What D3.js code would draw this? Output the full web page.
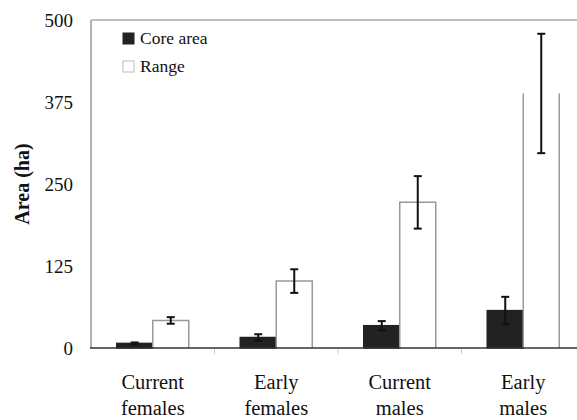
<html>
<script src="https://d3js.org/d3.v7.min.js"></script>
<body style="margin:0">
<svg width="577" height="420"></svg>
<script>
    // data
    var groups = ["Current females", "Early females", "Current males", "Early males"];
    var seriesNames = ["Core area", "Range"];
    var coreArea = [7, 16, 34, 57];
    var coreErr = [1.5, 5, 7, 21];
    var rangeArea = [42, 102, 222, 388];
    var rangeErr = [5, 18, 40, 91];
    var yTicks = [0, 125, 250, 375, 500];

    var fontName = "'Times New Roman', 'Liberation Serif', serif";
    var svg = d3.select("svg");
    var plotLeft = 91, plotRight = 585, plotTop = 20, base = 348;

    var x0 = d3.scaleBand().domain(groups).range([plotLeft, plotRight]);
    var x1 = d3.scaleBand().domain(seriesNames).range([0, x0.bandwidth()]).paddingOuter(0.715);
    var y = d3.scaleLinear().domain([0, 500]).range([base, plotTop]);

    var rows = groups.map(function (g, i) {
        return [
            { g: g, i: i, s: "Core area", v: coreArea[i], e: coreErr[i] },
            { g: g, i: i, s: "Range", v: rangeArea[i], e: rangeErr[i] }
        ];
    });

    // frame: top line and left axis
    svg.append("line").attr("x1", plotLeft).attr("x2", plotRight).attr("y1", plotTop).attr("y2", plotTop)
        .attr("stroke", "#aaa").attr("stroke-width", 1.5);
    svg.append("line").attr("x1", plotLeft).attr("x2", plotLeft).attr("y1", plotTop).attr("y2", base)
        .attr("stroke", "#999").attr("stroke-width", 1.5);

    // y tick labels
    svg.append("g").selectAll("text").data(yTicks).enter().append("text")
        .attr("x", 73).attr("y", function (d) { return y(d); })
        .attr("dy", "0.35em").attr("text-anchor", "end")
        .attr("font-family", fontName).attr("font-size", 19).attr("fill", "#111")
        .text(function (d) { return d; });

    svg.append("text")
        .attr("transform", "translate(29," + (y(0) + y(500)) / 2 + ") rotate(-90)")
        .attr("text-anchor", "middle")
        .attr("font-family", fontName).attr("font-size", 20).attr("font-weight", "bold").attr("fill", "#111")
        .text("Area (ha)");

    // bars
    var bars = svg.append("g").selectAll("g").data(rows).enter().append("g")
        .attr("transform", function (d) { return "translate(" + x0(d[0].g) + ",0)"; });

    bars.selectAll("rect").data(function (d) { return d; }).enter().append("rect")
        .attr("x", function (d) { return x1(d.s); })
        .attr("y", function (d) { return y(d.v); })
        .attr("width", x1.bandwidth())
        .attr("height", function (d) { return base - y(d.v); })
        .attr("fill", function (d) { return d.s == "Core area" ? "#222" : "#fff"; })
        .attr("stroke", function (d) { return d.s == "Core area" ? "#222" : "none"; })
        .attr("stroke-width", 1.5);

    // outline of the range bars (the tallest one is drawn open at the top, as in the figure)
    bars.append("path")
        .datum(function (d) { return d[1]; })
        .attr("fill", "none").attr("stroke", "#999").attr("stroke-width", 1.5)
        .attr("d", function (d) {
            var xa = x1(d.s), xb = xa + x1.bandwidth(), yt = y(d.v);
            if (d.i == groups.length - 1) {
                return "M" + xa + "," + base + "V" + yt + "M" + xb + "," + yt + "V" + base;
            }
            return "M" + xa + "," + base + "V" + yt + "H" + xb + "V" + base;
        });

    // error bars
    var err = bars.selectAll("g.err").data(function (d) { return d; }).enter().append("g")
        .attr("class", "err")
        .attr("stroke", "#111").attr("stroke-width", 2);
    function cx(d) { return x1(d.s) + x1.bandwidth() / 2; }
    err.append("line")
        .attr("x1", cx).attr("x2", cx)
        .attr("y1", function (d) { return y(d.v + d.e); })
        .attr("y2", function (d) { return y(d.v - d.e); });
    [1, -1].forEach(function (sgn) {
        err.append("line")
            .attr("x1", function (d) { return cx(d) - 4; })
            .attr("x2", function (d) { return cx(d) + 4; })
            .attr("y1", function (d) { return y(d.v + sgn * d.e); })
            .attr("y2", function (d) { return y(d.v + sgn * d.e); });
    });

    // baseline and category ticks
    svg.append("line").attr("x1", plotLeft - 1).attr("x2", plotRight).attr("y1", base).attr("y2", base)
        .attr("stroke", "#333").attr("stroke-width", 1.5);
    svg.append("g").selectAll("line").data(groups.slice(1)).enter().append("line")
        .attr("x1", function (d) { return x0(d); }).attr("x2", function (d) { return x0(d); })
        .attr("y1", base + 1).attr("y2", base + 6)
        .attr("stroke", "#ccc").attr("stroke-width", 1);

    // category labels on two lines
    var lab = svg.append("g").selectAll("text").data(groups).enter().append("text")
        .attr("x", function (d) { return x0(d) + x0.bandwidth() / 2; })
        .attr("y", 389).attr("text-anchor", "middle")
        .attr("font-family", fontName).attr("font-size", 20.5).attr("fill", "#111");
    lab.append("tspan").text(function (d) { return d.split(" ")[0]; });
    lab.append("tspan")
        .attr("x", function (d) { return x0(d) + x0.bandwidth() / 2; })
        .attr("dy", 26)
        .text(function (d) { return d.split(" ")[1]; });

    // legend
    var leg = svg.append("g").selectAll("g").data(seriesNames).enter().append("g")
        .attr("transform", function (d, i) { return "translate(123," + (33 + i * 28) + ")"; });
    leg.append("rect").attr("width", 11).attr("height", 11)
        .attr("fill", function (d, i) { return i == 0 ? "#222" : "#fff"; })
        .attr("stroke", function (d, i) { return i == 0 ? "#222" : "#bbb"; });
    leg.append("text").attr("x", 17).attr("y", 11)
        .attr("font-family", fontName).attr("font-size", 17.5).attr("fill", "#111")
        .text(function (d) { return d; });
</script>
</body>
</html>
